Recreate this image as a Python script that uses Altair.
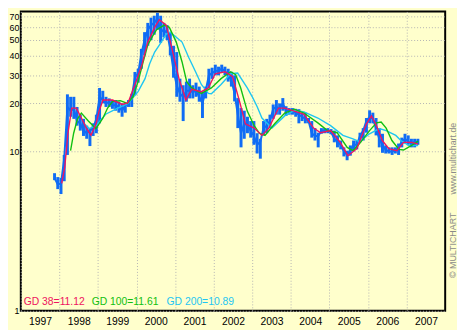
import altair as alt
import pandas as pd

BG = "#ffffcc"

# ---- monthly price bars (low / high / close), Nov 1997 .. Apr 2007 ----
price_start = "1997-11"
price_low = [
    6.6, 5.8,
    5.4, 6.5, 9.5, 16.5, 16, 14.5, 13.5, 12.5, 12, 10.8, 12.5, 13,
    15, 20, 19, 19, 18.5, 18, 17.5, 16.5, 17.5, 19, 19, 22.5,
    27, 33, 40, 46, 50, 54, 58, 48, 52, 50, 40, 29,
    22, 20.5, 15.5, 20.5, 21.5, 21.5, 22, 20.5, 16.2, 21.5, 25, 28.5,
    30, 30, 31.5, 30, 27.4, 25.5, 20.6, 14, 10.6, 12, 13, 12.2,
    11, 9.7, 9, 12.6, 13, 14, 16, 17, 17, 18, 16.7, 17,
    17, 16.5, 15, 15.5, 15, 15, 12.2, 11.7, 10.6, 12.9, 13, 13,
    12.8, 11.4, 10.6, 10.3, 9.3, 8.8, 9.4, 10, 10.3, 11.4, 11.7, 13.1,
    15, 15, 12.6, 10.6, 9.8, 9.7, 9.7, 9.5, 9.7, 9.5, 10.6, 11.2,
    11, 10.6, 10.6, 11,
]
price_high = [
    7.3, 6.9,
    6.8, 9.5, 22.8, 22, 22, 19, 17, 16, 14.5, 14, 15, 17,
    25, 24, 22, 21.5, 21, 21, 20.5, 20, 20, 21, 23, 31.5,
    33, 44, 56, 64, 69, 71, 74, 71, 64, 62, 56, 46,
    42, 28.6, 26, 27.4, 28.6, 26, 27, 25.5, 23.8, 25.5, 33, 33.5,
    35, 34, 35, 34, 33, 31.6, 30, 21.6, 18.7, 18, 16.5, 15.5,
    15.5, 13, 12, 15.5, 16, 17, 19.7, 21, 20, 21.6, 19.2, 18.7,
    18.7, 18.5, 18.4, 17.5, 17.5, 16.2, 15.5, 14, 13.1, 14, 14, 14,
    13.8, 13.5, 12.6, 11.7, 10.6, 10.1, 10.9, 11.7, 11.7, 13.1, 14, 16.2,
    18.1, 17.5, 16.2, 14, 12.9, 10.9, 10.6, 10.6, 10.6, 11.2, 12.2, 12.9,
    12.6, 12, 12, 12,
]
price_close = [
    6.8, 6.2,
    6.3, 9.0, 19, 18, 18.5, 15.5, 15, 13.5, 13, 13.5, 14, 16,
    22, 21, 20, 20.5, 19.5, 19.5, 19, 18, 19.5, 20, 22, 29,
    31, 41, 50, 58, 62, 64, 68, 56, 58, 55, 44, 32,
    26, 23, 22, 24, 24, 23.5, 24, 22, 20, 24, 30, 31,
    32, 32, 33, 32, 30, 28, 23, 17, 13, 15, 14.5, 13.5,
    12.5, 11, 11.5, 14, 14.5, 15.5, 18.5, 19, 18.5, 20, 18, 18,
    18, 17.5, 17, 16.5, 16, 15.5, 13, 12.5, 12.5, 13.5, 13.5, 13.5,
    13.2, 12, 11.5, 11, 10, 9.5, 10.2, 11, 11, 12.5, 13.5, 15.5,
    16.5, 16, 14, 12, 11, 10.2, 10, 10, 10.2, 10.5, 11.5, 12,
    11.5, 11.2, 11.5, 11.5,
]

# ---- moving averages (decimal year, value) ----
gd38_t = [1998.06, 1998.14, 1998.22, 1998.32, 1998.44, 1998.57, 1998.70, 1998.82, 1998.95,
          1999.03, 1999.13, 1999.38, 1999.63, 1999.78, 1999.96,
          2000.14, 2000.29, 2000.47, 2000.59, 2000.77, 2000.92,
          2001.10, 2001.28, 2001.43, 2001.68, 2001.86,
          2002.04, 2002.29, 2002.49, 2002.67, 2002.82,
          2003.05, 2003.25, 2003.43, 2003.68, 2003.84,
          2004.09, 2004.34, 2004.59, 2004.77,
          2005.03, 2005.28, 2005.48, 2005.71, 2005.78, 2005.96,
          2006.09, 2006.22, 2006.37, 2006.54, 2006.75, 2006.92,
          2007.13, 2007.30]
gd38_v = [6.3, 8, 12.9, 18.7, 18.7, 16.2, 14, 12.6, 14.9,
          17.9, 21, 21, 19.7, 20.2, 26.3,
          35, 48.5, 60, 67, 62, 44,
          28.6, 21, 24.5, 23.7, 25,
          30.7, 31.6, 29.4, 20.6, 14.9,
          14, 12.6, 14, 18.7, 18.7,
          17.9, 17.1, 14, 13.1,
          13.5, 11.4, 9.4, 10.4, 11.5, 14.9,
          16.7, 14.5, 11.7, 10.4, 10.1, 11.4,
          11.4, 11.12]

gd100_t = [1998.29, 1998.37, 1998.47, 1998.57, 1998.75, 1998.95,
           1999.13, 1999.25, 1999.38, 1999.58, 1999.76, 1999.91,
           2000.04, 2000.16, 2000.29, 2000.42, 2000.52, 2000.72, 2000.85,
           2001.03, 2001.18, 2001.30, 2001.43, 2001.68, 2001.94,
           2002.19, 2002.44, 2002.57, 2002.70, 2002.87,
           2003.05, 2003.18, 2003.33, 2003.58, 2003.84,
           2004.09, 2004.34, 2004.70, 2004.95,
           2005.20, 2005.46, 2005.61, 2005.78,
           2006.04, 2006.22, 2006.34, 2006.47, 2006.62, 2006.80, 2006.92,
           2007.13, 2007.30]
gd100_v = [10.1, 13, 16, 17.4, 15.5, 13.9,
           16.2, 18.7, 20.6, 20.8, 20, 22,
           27.4, 35.5, 46.5, 53, 58, 62, 60,
           48.5, 36.4, 27.4, 25, 23.1, 25,
           28.6, 31.6, 30.3, 25, 17.9,
           14.5, 13, 12.6, 14.9, 17.4,
           18.4, 17.4, 15.1, 13.5,
           13.1, 10.6, 10.1, 11.2,
           13.5, 15.1, 15.3, 14, 11.7, 10.3, 10.2,
           10.9, 11.61]

gd200_t = [1998.65, 1998.77, 1998.95,
           1999.20, 1999.46, 1999.78,
           2000.04, 2000.22, 2000.34, 2000.47, 2000.59, 2000.77, 2000.87,
           2001.18, 2001.35, 2001.53, 2001.68, 2001.86, 2001.94,
           2002.19, 2002.44, 2002.62, 2002.87,
           2003.00, 2003.13, 2003.25, 2003.51, 2003.84,
           2004.09, 2004.34, 2004.70,
           2005.03, 2005.35, 2005.61, 2005.78,
           2006.04, 2006.29, 2006.47, 2006.72, 2006.85,
           2007.05, 2007.30]
gd200_v = [14.9, 13.9, 14.5,
           17.1, 18.4, 20,
           23.7, 28.6, 35.5, 42, 46.5, 54.5, 56,
           48.5, 39, 31.6, 26.3, 23.1, 23,
           26.3, 30.7, 31, 25,
           22, 19, 16.2, 14, 16.7,
           18.1, 17.7, 16.2,
           14.5, 12.6, 12, 11.5,
           12.9, 13.9, 13.5, 12.6, 11.7,
           10.9, 10.89]

x_ticks = list(range(1997, 2008))
y_ticks = [1, 10, 20, 30, 40, 50, 60, 70]
legend_texts = ["GD 38=11.12", "GD 100=11.61", "GD 200=10.89"]
credit_texts = ["www.multichart.de", "\u00a9 MULTICHART"]

C_PRICE = "#0f6cf5"
C_38 = "#ee1460"
C_100 = "#10c010"
C_200 = "#1ec6f2"

W, H = 431, 304

months = pd.period_range(price_start, periods=len(price_close), freq="M")
price = pd.DataFrame({
    "t": [p.year + (p.month - 0.5) / 12 for p in months],
    "low": price_low, "high": price_high, "close": price_close,
})

xscale = alt.Scale(domain=[1997, 2008], nice=False, zero=False)
yscale = alt.Scale(type="log", domain=[1, 75.5], nice=False)

xaxis = alt.Axis(values=x_ticks, format="d", labelOffset=W / 11 / 2, labelFlush=False,
                 labelOverlap=False, labelPadding=6, ticks=False, domain=False,
                 grid=True, title=None, labelFontSize=10.5)
yaxis = alt.Axis(values=y_ticks, format="d", labelPadding=2, ticks=False, domain=False,
                 grid=True, title=None, labelFontSize=9, labelFlush=False, labelOverlap=False)

X = alt.X("t:Q", scale=xscale, axis=xaxis)

bars = alt.Chart(price).mark_rule(color=C_PRICE, strokeWidth=3).encode(
    x=X, y=alt.Y("low:Q", scale=yscale, axis=yaxis), y2="high:Q")
close = alt.Chart(price).mark_line(color=C_PRICE, strokeWidth=2).encode(
    x="t:Q", y="close:Q")


def ma_layer(ts, vs, color):
    df = pd.DataFrame({"t": ts, "v": vs})
    return alt.Chart(df).mark_line(color=color, strokeWidth=1.4).encode(
        x="t:Q", y=alt.Y("v:Q"))


l200 = ma_layer(gd200_t, gd200_v, C_200)
l100 = ma_layer(gd100_t, gd100_v, C_100)
l38 = ma_layer(gd38_t, gd38_v, C_38)


def label(text, color, px, py, size=10.5, angle=0):
    df = pd.DataFrame({"label": [text]})
    return alt.Chart(df).mark_text(align="center" if angle else "left", baseline="middle",
                                   color=color, fontSize=size, angle=angle,
                                   font="Liberation Sans").encode(
        x=alt.value(px), y=alt.value(py), text="label:N")


leg1 = label(legend_texts[0], C_38, 3, 295)
leg2 = label(legend_texts[1], C_100, 72, 295)
leg3 = label(legend_texts[2], C_200, 148, 295)
cr1 = label(credit_texts[0], "#8a8a8a", 439, 149.5, size=9, angle=270)
cr2 = label(credit_texts[1], "#8a8a8a", 439, 237.5, size=9, angle=270)

chart = alt.layer(bars, close, l200, l100, l38, leg1, leg2, leg3, cr1, cr2).properties(
    width=W, height=H,
    autosize=alt.AutoSizeParams(type="none"),
    padding={"left": 13, "top": 1, "right": 12, "bottom": 17},
    background=BG,
).configure_view(
    stroke="black", strokeWidth=2, fill=BG,
).configure_axis(
    gridColor="#b4b4b4", gridDash=[1, 2], gridWidth=1,
    labelColor="black", labelFont="Liberation Sans",
)

chart.save("out.html", embed_options={"renderer": "svg", "actions": False})
